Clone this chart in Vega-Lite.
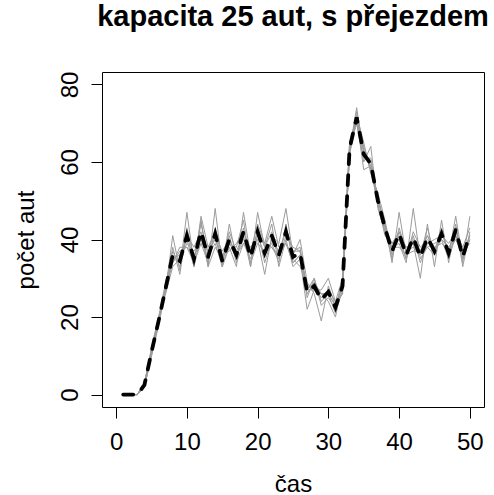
{
  "$schema": "https://vega.github.io/schema/vega-lite/v6.json",
  "autosize": "none",
  "padding": {"left": 102, "top": 72, "right": 10, "bottom": 88},
  "width": 382,
  "height": 335,
  "background": "white",
  "title": {
    "text": "kapacita 25 aut, s přejezdem",
    "font": "Liberation Sans",
    "fontSize": 29,
    "fontWeight": "bold",
    "color": "black",
    "anchor": "middle",
    "baseline": "alphabetic",
    "offset": 16
  },
  "config": {
    "view": {"stroke": "black", "strokeWidth": 1},
    "axis": {
      "grid": false,
      "domain": false,
      "ticks": true,
      "tickSize": 11,
      "tickColor": "black",
      "tickWidth": 1,
      "labelFont": "Liberation Sans",
      "labelFontSize": 24,
      "labelColor": "black",
      "titleFont": "Liberation Sans",
      "titleFontSize": 24,
      "titleFontWeight": "normal",
      "titleColor": "black"
    }
  },
  "data": {
    "values": [
      {"t": 1, "r1": 0, "r2": 0, "r3": 0, "r4": 0, "r5": 0, "r6": 0, "r7": 0, "r8": 0},
      {"t": 2, "r1": 0, "r2": 0, "r3": 0, "r4": 0, "r5": 0, "r6": 0, "r7": 0, "r8": 0},
      {"t": 3, "r1": 0, "r2": 0, "r3": 0, "r4": 0, "r5": 0, "r6": 0, "r7": 0, "r8": 0},
      {"t": 4, "r1": 2, "r2": 3, "r3": 2, "r4": 3, "r5": 2, "r6": 3, "r7": 3, "r8": 2},
      {"t": 5, "r1": 10, "r2": 11, "r3": 12, "r4": 11, "r5": 10, "r6": 12, "r7": 11, "r8": 11},
      {"t": 6, "r1": 18, "r2": 19, "r3": 20, "r4": 19, "r5": 18, "r6": 20, "r7": 19, "r8": 19},
      {"t": 7, "r1": 27, "r2": 28, "r3": 26, "r4": 28, "r5": 27, "r6": 29, "r7": 27, "r8": 28},
      {"t": 8, "r1": 41, "r2": 35, "r3": 33, "r4": 38, "r5": 34, "r6": 36, "r7": 37, "r8": 34},
      {"t": 9, "r1": 32, "r2": 36, "r3": 35, "r4": 31, "r5": 37, "r6": 34, "r7": 33, "r8": 38},
      {"t": 10, "r1": 47, "r2": 40, "r3": 39, "r4": 43, "r5": 38, "r6": 42, "r7": 41, "r8": 38},
      {"t": 11, "r1": 34, "r2": 33, "r3": 37, "r4": 35, "r5": 36, "r6": 33, "r7": 38, "r8": 34},
      {"t": 12, "r1": 45, "r2": 41, "r3": 40, "r4": 44, "r5": 39, "r6": 46, "r7": 42, "r8": 39},
      {"t": 13, "r1": 33, "r2": 37, "r3": 35, "r4": 36, "r5": 34, "r6": 38, "r7": 33, "r8": 38},
      {"t": 14, "r1": 48, "r2": 40, "r3": 41, "r4": 39, "r5": 43, "r6": 42, "r7": 38, "r8": 41},
      {"t": 15, "r1": 33, "r2": 35, "r3": 37, "r4": 33, "r5": 36, "r6": 34, "r7": 35, "r8": 33},
      {"t": 16, "r1": 38, "r2": 42, "r3": 40, "r4": 44, "r5": 37, "r6": 41, "r7": 39, "r8": 39},
      {"t": 17, "r1": 33, "r2": 37, "r3": 36, "r4": 35, "r5": 39, "r6": 34, "r7": 38, "r8": 36},
      {"t": 18, "r1": 47, "r2": 41, "r3": 40, "r4": 43, "r5": 42, "r6": 39, "r7": 45, "r8": 39},
      {"t": 19, "r1": 36, "r2": 33, "r3": 38, "r4": 34, "r5": 37, "r6": 35, "r7": 33, "r8": 38},
      {"t": 20, "r1": 42, "r2": 47, "r3": 40, "r4": 39, "r5": 44, "r6": 41, "r7": 43, "r8": 40},
      {"t": 21, "r1": 34, "r2": 38, "r3": 31, "r4": 37, "r5": 39, "r6": 36, "r7": 38, "r8": 39},
      {"t": 22, "r1": 40, "r2": 44, "r3": 41, "r4": 38, "r5": 46, "r6": 39, "r7": 42, "r8": 38},
      {"t": 23, "r1": 37, "r2": 33, "r3": 39, "r4": 35, "r5": 38, "r6": 34, "r7": 36, "r8": 36},
      {"t": 24, "r1": 42, "r2": 40, "r3": 48, "r4": 41, "r5": 39, "r6": 44, "r7": 43, "r8": 39},
      {"t": 25, "r1": 37, "r2": 33, "r3": 36, "r4": 38, "r5": 35, "r6": 34, "r7": 37, "r8": 34},
      {"t": 26, "r1": 38, "r2": 35, "r3": 40, "r4": 37, "r5": 33, "r6": 36, "r7": 37, "r8": 36},
      {"t": 27, "r1": 27, "r2": 22, "r3": 29, "r4": 26, "r5": 28, "r6": 25, "r7": 27, "r8": 28},
      {"t": 28, "r1": 30, "r2": 27, "r3": 26, "r4": 29, "r5": 28, "r6": 30, "r7": 27, "r8": 27},
      {"t": 29, "r1": 24, "r2": 27, "r3": 19, "r4": 26, "r5": 25, "r6": 23, "r7": 26, "r8": 26},
      {"t": 30, "r1": 26, "r2": 30, "r3": 28, "r4": 24, "r5": 27, "r6": 25, "r7": 26, "r8": 26},
      {"t": 31, "r1": 21, "r2": 24, "r3": 23, "r4": 20, "r5": 24, "r6": 22, "r7": 23, "r8": 23},
      {"t": 32, "r1": 27, "r2": 30, "r3": 28, "r4": 29, "r5": 26, "r6": 30, "r7": 28, "r8": 26},
      {"t": 33, "r1": 63, "r2": 64, "r3": 62, "r4": 65, "r5": 63, "r6": 64, "r7": 62, "r8": 65},
      {"t": 34, "r1": 74, "r2": 70, "r3": 72, "r4": 71, "r5": 73, "r6": 70, "r7": 71, "r8": 71},
      {"t": 35, "r1": 62, "r2": 60, "r3": 65, "r4": 58, "r5": 63, "r6": 61, "r7": 64, "r8": 63},
      {"t": 36, "r1": 60, "r2": 64, "r3": 57, "r4": 59, "r5": 58, "r6": 61, "r7": 58, "r8": 59},
      {"t": 37, "r1": 50, "r2": 48, "r3": 52, "r4": 49, "r5": 51, "r6": 50, "r7": 49, "r8": 51},
      {"t": 38, "r1": 44, "r2": 42, "r3": 45, "r4": 41, "r5": 43, "r6": 44, "r7": 42, "r8": 43},
      {"t": 39, "r1": 34, "r2": 38, "r3": 36, "r4": 39, "r5": 35, "r6": 37, "r7": 38, "r8": 39},
      {"t": 40, "r1": 47, "r2": 39, "r3": 42, "r4": 40, "r5": 43, "r6": 41, "r7": 38, "r8": 42},
      {"t": 41, "r1": 36, "r2": 34, "r3": 38, "r4": 35, "r5": 37, "r6": 35, "r7": 36, "r8": 37},
      {"t": 42, "r1": 40, "r2": 48, "r3": 39, "r4": 42, "r5": 38, "r6": 41, "r7": 37, "r8": 39},
      {"t": 43, "r1": 37, "r2": 35, "r3": 30, "r4": 38, "r5": 36, "r6": 34, "r7": 37, "r8": 37},
      {"t": 44, "r1": 41, "r2": 38, "r3": 44, "r4": 40, "r5": 43, "r6": 39, "r7": 41, "r8": 38},
      {"t": 45, "r1": 37, "r2": 39, "r3": 33, "r4": 38, "r5": 36, "r6": 40, "r7": 37, "r8": 36},
      {"t": 46, "r1": 43, "r2": 40, "r3": 45, "r4": 39, "r5": 42, "r6": 41, "r7": 40, "r8": 42},
      {"t": 47, "r1": 36, "r2": 38, "r3": 34, "r4": 37, "r5": 36, "r6": 39, "r7": 35, "r8": 37},
      {"t": 48, "r1": 46, "r2": 41, "r3": 43, "r4": 40, "r5": 44, "r6": 42, "r7": 41, "r8": 43},
      {"t": 49, "r1": 35, "r2": 37, "r3": 34, "r4": 36, "r5": 33, "r6": 38, "r7": 35, "r8": 36},
      {"t": 50, "r1": 41, "r2": 39, "r3": 46, "r4": 40, "r5": 42, "r6": 43, "r7": 40, "r8": 41}
    ]
  },
  "transform": [
    {"fold": ["r1", "r2", "r3", "r4", "r5", "r6", "r7", "r8"], "as": ["run", "n"]}
  ],
  "encoding": {
    "x": {
      "field": "t",
      "type": "quantitative",
      "scale": {"domain": [-2, 52], "nice": false, "zero": false},
      "axis": {
        "title": "čas",
        "values": [0, 10, 20, 30, 40, 50],
        "labelAngle": 0,
        "labelAlign": "center",
        "labelBaseline": "alphabetic",
        "labelPadding": 31,
        "titleBaseline": "alphabetic",
        "titleY": 84
      }
    }
  },
  "layer": [
    {
      "mark": {"type": "line", "color": "#9c9c9c", "strokeWidth": 1, "clip": true},
      "encoding": {
        "y": {
          "field": "n",
          "type": "quantitative",
          "scale": {"domain": [-3.2, 83.2], "nice": false, "zero": false},
          "axis": {
            "title": "počet aut",
            "values": [0, 20, 40, 60, 80],
            "labelAngle": -90,
            "labelAlign": "center",
            "labelBaseline": "alphabetic",
            "labelPadding": 14,
            "titleAngle": -90,
            "titleBaseline": "alphabetic",
            "titleX": -69
          }
        },
        "detail": {"field": "run"}
      }
    },
    {
      "mark": {
        "type": "line",
        "color": "black",
        "strokeWidth": 3.8,
        "strokeDash": [10, 11],
        "strokeCap": "round",
        "clip": true
      },
      "encoding": {
        "y": {"field": "n", "type": "quantitative", "aggregate": "mean"}
      }
    }
  ]
}
